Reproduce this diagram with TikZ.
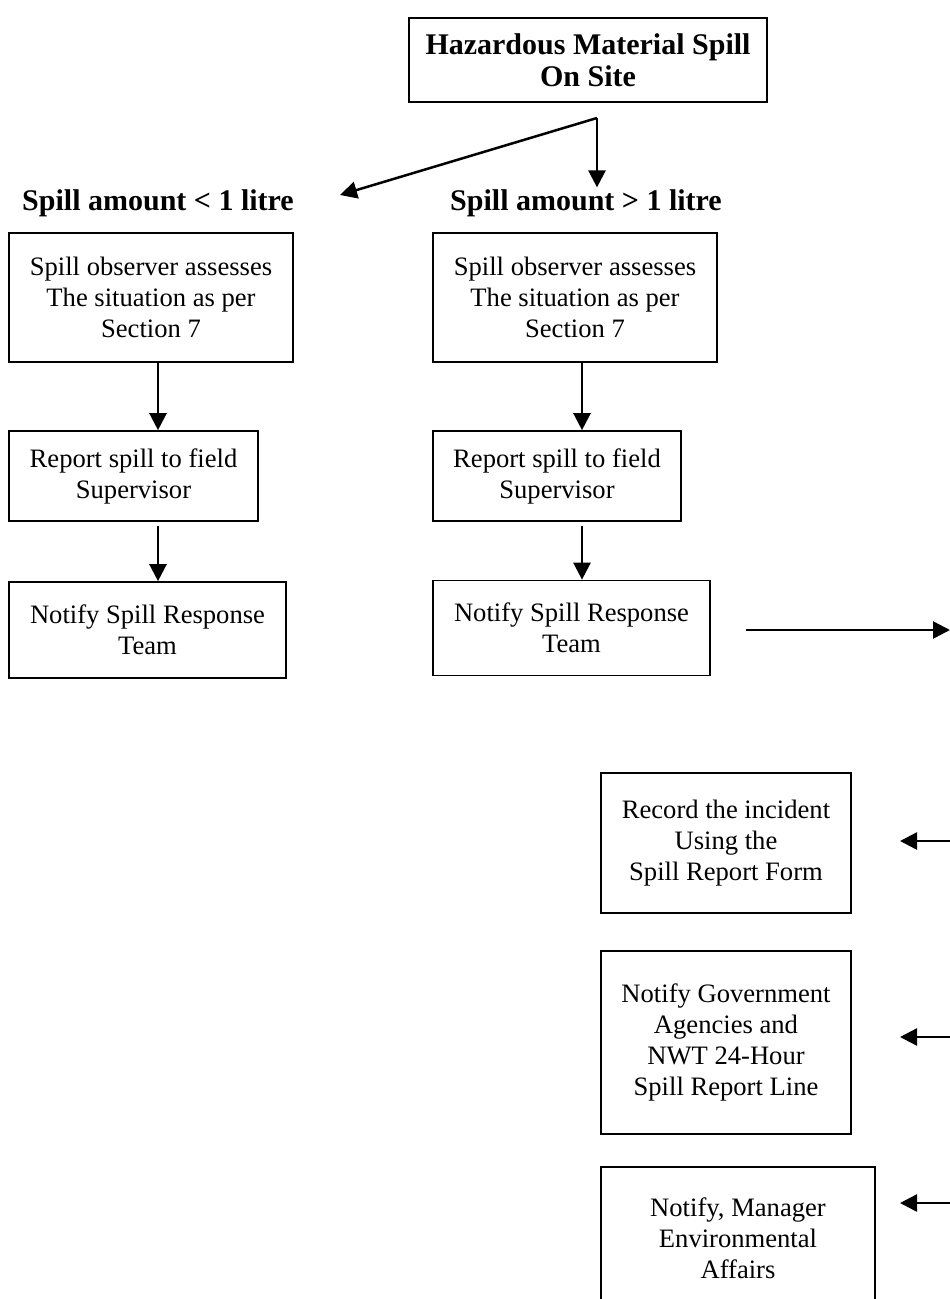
\documentclass[tikz,border=0pt]{standalone}
\usepackage{fontspec}
\setmainfont{Liberation Serif}
\usetikzlibrary{arrows.meta,positioning,calc}

\newcommand{\boxfont}{\fontsize{26.6}{31}\selectfont}
\newcommand{\headfont}{\fontsize{30}{32}\selectfont\bfseries}

\begin{document}
\begin{tikzpicture}[x=1pt, y=-1pt,
    stepbox/.style={draw, line width=1.7pt, align=center, inner sep=0pt, font=\boxfont},
    heading/.style={font=\headfont, inner sep=0pt, outer sep=2pt},
    arr/.style={line width=2.5pt, -{Triangle[length=17pt,width=17pt]}}]
    \useasboundingbox (0,0) rectangle (950,1299);

    % Start of the procedure
    \node[stepbox, font=\headfont, minimum width=358, minimum height=84] (spill) at (588,60)
        {Hazardous Material Spill\\On Site};
    \coordinate (fork) at (597,118);
    \coordinate (smalltip) at (340,195);

    % Branch headings
    \node[heading] (small) at (158,203) {Spill amount < 1 litre};
    \node[heading] (large) at (586,203) {Spill amount > 1 litre};

    % Left column (< 1 litre)
    \node[stepbox, minimum width=284, minimum height=129] (lassess) at (151,297.5)
        {Spill observer assesses\\The situation as per\\Section 7};
    \node[stepbox, minimum width=249, minimum height=90] (lreport) at (133.5,476)
        {Report spill to field\\Supervisor};
    \node[stepbox, minimum width=277, minimum height=96] (lnotify) at (147.5,630)
        {Notify Spill Response\\Team};

    % Middle column (> 1 litre)
    \node[stepbox, minimum width=284, minimum height=129] (rassess) at (575,297.5)
        {Spill observer assesses\\The situation as per\\Section 7};
    \node[stepbox, minimum width=248, minimum height=90] (rreport) at (557,476)
        {Report spill to field\\Supervisor};
    \node[stepbox, minimum width=277, minimum height=95] (rnotify) at (571.5,628)
        {Notify Spill Response\\Team};

    % Follow-up actions
    \node[stepbox, minimum width=250, minimum height=140] (record) at (726,843)
        {Record the incident\\Using the\\Spill Report Form};
    \node[stepbox, minimum width=250, minimum height=183] (govt) at (726,1042.5)
        {Notify Government\\Agencies and\\NWT 24-Hour\\Spill Report Line};
    \node[stepbox, minimum width=274, minimum height=142] (manager) at (738,1238)
        {Notify, Manager\\Environmental\\Affairs};

    % Column lines for the arrows
    \coordinate (lcol) at (158,0);
    \coordinate (rcol) at (582,0);

    % Arrows
    \draw[arr] (fork) -- (smalltip);
    \draw[arr] (fork) -- (fork |- large.north);
    \draw[arr] (lassess.south -| lcol) -- (lreport.north -| lcol);
    \draw[arr] ($(lreport.south -| lcol)+(0,4)$) -- (lnotify.north -| lcol);
    \draw[arr] (rassess.south -| rcol) -- (rreport.north -| rcol);
    \draw[arr] ($(rreport.south -| rcol)+(0,4)$) -- (rnotify.north -| rcol);
    \draw[arr] ($(rnotify.east)+(35,2)$) -- (950,630);
    \foreach \y in {841,1037,1203} {
        \draw[arr] (950,\y) -- (900,\y);
    }
\end{tikzpicture}
\end{document}
